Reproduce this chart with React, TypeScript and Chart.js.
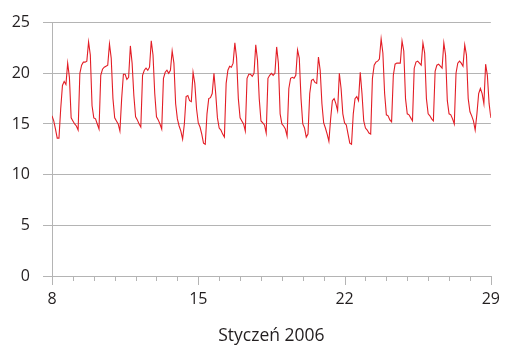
import React, { useEffect, useRef } from "react";
import { Chart, registerables } from "chart.js";

Chart.register(...registerables);

// Sample hours within each day
const hours = [0, 2, 4, 6, 8, 10, 12, 14, 16, 18, 20, 22];
const days = [8, 9, 10, 11, 12, 13, 14, 15, 16, 17, 18, 19, 20, 21, 22, 23, 24, 25, 26, 27, 28];

// Values per day (at the hours above)
const d08 = [15.8, 15.3, 14.5, 13.6, 13.6, 16.5, 18.8, 19.2, 18.9, 21.0, 19.6, 15.6];
const d09 = [15.3, 15.0, 14.8, 14.4, 20.0, 20.8, 21.1, 21.1, 21.2, 23.1, 21.8, 16.8];
const d10 = [15.6, 15.5, 15.0, 14.5, 19.8, 20.4, 20.6, 20.7, 20.8, 22.9, 21.5, 17.5];
const d11 = [15.6, 15.3, 15.0, 14.3, 17.5, 19.9, 19.9, 19.4, 19.6, 22.7, 21.0, 17.8];
const d12 = [15.7, 15.4, 15.0, 14.7, 19.8, 20.3, 20.5, 20.3, 20.6, 23.2, 21.8, 18.0];
const d13 = [15.7, 15.4, 15.0, 14.5, 19.5, 20.1, 20.3, 20.0, 20.3, 22.2, 21.0, 17.0];
const d14 = [15.5, 14.8, 14.3, 13.5, 15.0, 17.7, 17.8, 17.3, 17.2, 20.1, 19.0, 16.5];
const d15 = [15.1, 14.7, 14.0, 13.1, 13.0, 16.0, 17.5, 17.6, 18.0, 20.0, 18.0, 15.6];
const d16 = [14.6, 14.4, 14.0, 13.7, 19.0, 20.3, 20.7, 20.6, 21.0, 23.0, 21.5, 17.5];
const d17 = [15.6, 15.3, 15.0, 14.3, 19.5, 19.9, 19.9, 19.7, 20.0, 22.8, 21.3, 17.5];
const d18 = [15.3, 15.1, 14.9, 14.1, 19.5, 19.8, 20.0, 19.8, 20.0, 22.6, 21.0, 16.0];
const d19 = [15.0, 14.8, 14.5, 13.8, 18.5, 19.5, 19.6, 19.5, 19.8, 22.3, 21.5, 17.5];
const d20 = [15.0, 14.6, 13.7, 14.0, 18.0, 19.3, 19.4, 19.1, 19.0, 21.6, 20.3, 17.0];
const d21 = [15.1, 14.6, 14.0, 13.3, 15.5, 17.3, 17.5, 17.0, 16.3, 20.0, 18.5, 16.0];
const d22 = [15.1, 14.9, 14.0, 13.1, 13.0, 16.0, 17.5, 17.7, 17.3, 20.1, 18.0, 15.3];
const d23 = [14.6, 14.4, 14.1, 14.0, 19.5, 20.8, 21.1, 21.2, 21.4, 23.4, 22.0, 18.0];
const d24 = [15.9, 15.8, 15.4, 15.2, 19.8, 20.9, 21.0, 21.0, 21.0, 23.2, 22.2, 17.5];
const d25 = [16.0, 15.9, 15.6, 15.3, 20.5, 21.1, 21.2, 21.0, 20.8, 23.0, 22.0, 17.5];
const d26 = [16.0, 15.8, 15.5, 15.3, 20.2, 20.8, 20.9, 20.7, 20.5, 23.0, 21.8, 17.3];
const d27 = [16.0, 15.9, 15.5, 15.0, 20.0, 21.0, 21.2, 21.0, 20.7, 22.8, 21.8, 17.5];
const d28 = [16.2, 15.8, 15.3, 14.4, 16.0, 18.0, 18.5, 18.0, 17.0, 20.9, 19.8, 17.0];
const dayValues = [d08, d09, d10, d11, d12, d13, d14, d15, d16, d17, d18, d19, d20, d21, d22, d23, d24, d25, d26, d27, d28];
const lastDay = 29;
const lastValue = 15.6;

const tickDays = [8, 9, 10, 11, 12, 13, 14, 15, 16, 17, 18, 19, 20, 21, 22, 23, 24, 25, 26, 27, 28, 29];
const xLabelDays = [8, 15, 22, 29];
const yTickValues = [0, 5, 10, 15, 20, 25];
const xTitle = "Styczeń 2006";

const GRID = "#b4b4b4";
const TEXT = "#231f20";
const LINE = "#e31e26";
const FONT = "'Open Sans', 'Noto Sans', sans-serif";

const dayTicksPlugin = {
  id: "dayTicks",
  afterDraw(chart: any) {
    const xs = chart.scales.x;
    const ctx = chart.ctx;
    const y0 = chart.chartArea.bottom;
    ctx.save();
    ctx.strokeStyle = GRID;
    ctx.lineWidth = 1;
    for (const d of tickDays) {
      const px = Math.round(xs.getPixelForValue(d)) + 0.5;
      const len = xLabelDays.includes(d) ? 9 : 5;
      ctx.beginPath();
      ctx.moveTo(px, y0);
      ctx.lineTo(px, y0 + len);
      ctx.stroke();
    }
    ctx.restore();
  },
};

export default function App() {
  const ref = useRef<HTMLCanvasElement | null>(null);

  useEffect(() => {
    if (!ref.current) return;
    const points: { x: number; y: number }[] = [];
    days.forEach((d, i) => {
      hours.forEach((h, j) => {
        points.push({ x: d + h / 24, y: dayValues[i][j] });
      });
    });
    points.push({ x: lastDay, y: lastValue });

    const chart = new Chart(ref.current, {
      type: "line",
      data: {
        datasets: [
          {
            data: points,
            borderColor: LINE,
            borderWidth: 1.1,
            pointRadius: 0,
            tension: 0,
            fill: false,
          },
        ],
      },
      plugins: [dayTicksPlugin],
      options: {
        animation: false,
        responsive: true,
        maintainAspectRatio: false,
        layout: { padding: { top: 18, right: 12, left: 0, bottom: 0 } },
        plugins: {
          legend: { display: false },
          tooltip: { enabled: false },
        },
        scales: {
          x: {
            type: "linear",
            min: 8,
            max: 29,
            afterBuildTicks: (s: any) => {
              s.ticks = xLabelDays.map((v) => ({ value: v }));
            },
            afterFit: (s: any) => {
              s.height = 71;
            },
            grid: {
              display: true,
              drawOnChartArea: false,
              drawTicks: true,
              tickLength: 9,
              color: "rgba(0,0,0,0)",
            },
            border: { display: true, color: GRID, width: 1 },
            ticks: {
              autoSkip: false,
              maxRotation: 0,
              padding: 5,
              color: TEXT,
              font: { family: FONT, size: 16 },
              callback: (v: any) => String(v),
            },
            title: {
              display: true,
              text: xTitle,
              color: TEXT,
              font: { family: FONT, size: 17.5 },
              padding: { top: 0, bottom: 0 },
            },
          },
          y: {
            min: 0,
            max: 25,
            afterBuildTicks: (s: any) => {
              s.ticks = yTickValues.map((v) => ({ value: v }));
            },
            afterFit: (s: any) => {
              s.width = 52;
            },
            grid: {
              display: true,
              drawOnChartArea: true,
              drawTicks: true,
              tickLength: 9,
              color: GRID,
              lineWidth: 1,
            },
            border: { display: true, color: GRID, width: 1 },
            ticks: {
              padding: 13,
              color: TEXT,
              font: { family: FONT, size: 16 },
              callback: (v: any) => String(v),
            },
          },
        },
      },
    });
    return () => chart.destroy();
  }, []);

  return (
    <div style={{ position: "absolute", left: 0, top: 0, width: 505, height: 347 }}>
      <canvas ref={ref} />
    </div>
  );
}
